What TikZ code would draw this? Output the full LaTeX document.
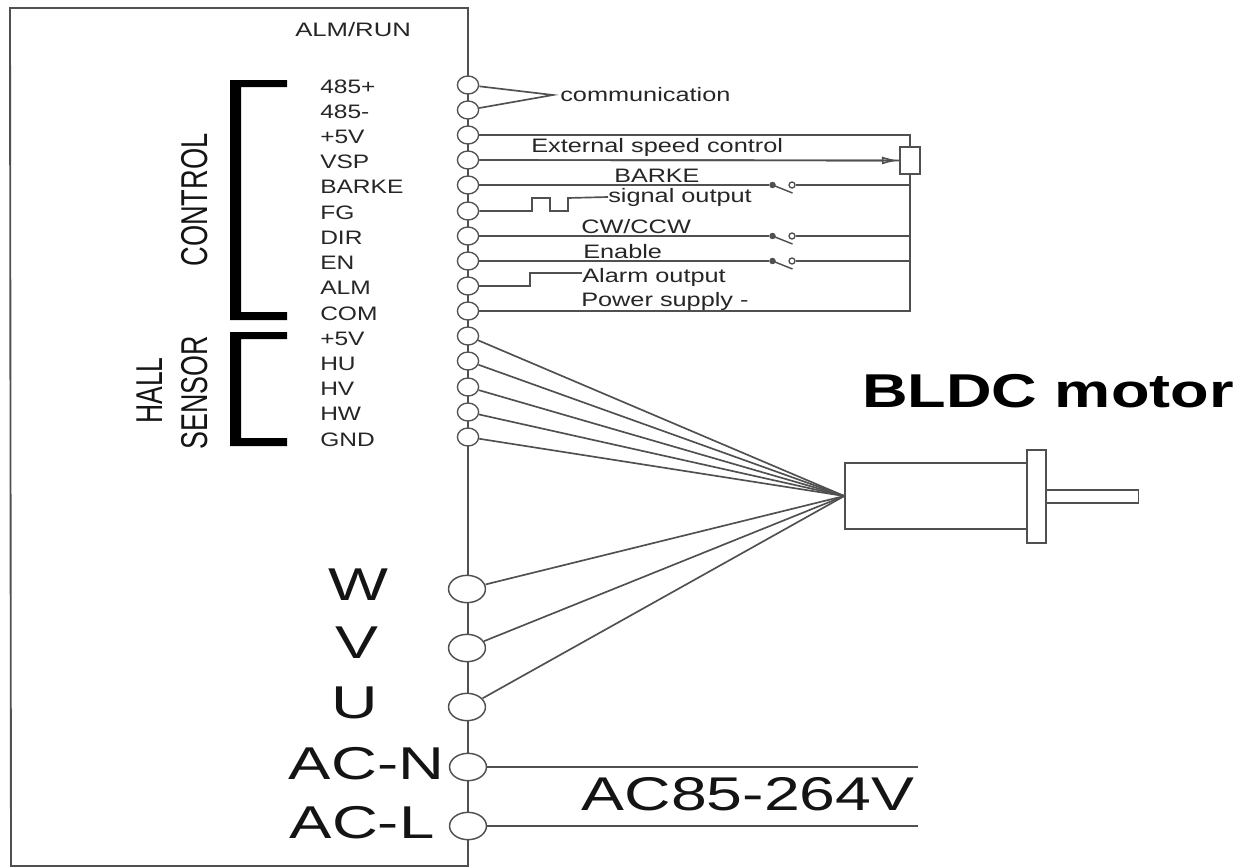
\documentclass[tikz,border=0pt]{standalone}
\usepackage{fontspec}
\usepackage{graphicx}
\setmainfont{Liberation Sans}
\usetikzlibrary{arrows.meta}
\definecolor{ln}{HTML}{505050}
\newcommand{\fs}[2]{\fontsize{#1}{#1}\selectfont\scalebox{#2}[1]}
\tikzset{
  x=0.75pt,y=-0.75pt,
  wire/.style={draw=ln,line width=1.25pt},
  frame/.style={draw=ln,line width=1.4pt},
  pin/.style={circle,draw=ln,fill=white,line width=1pt,minimum size=13.5pt,inner sep=0pt,xscale=1.18,transform shape},
  bigpin/.style={circle,draw=ln,fill=white,line width=1.1pt,minimum size=20.5pt,inner sep=0pt,xscale=1.35,transform shape},
  sig/.style={anchor=west,inner sep=0pt,text=black!85},
  big/.style={anchor=center,inner sep=0pt,text=black!92},
  dotA/.style={circle,draw=ln,fill=ln,line width=0.8pt,minimum size=4pt,inner sep=0pt},
  dotB/.style={circle,draw=ln,fill=white,line width=1pt,minimum size=4.5pt,inner sep=0pt},
  blade/.style={draw=ln,line width=1.1pt},
  part/.style={draw=ln,line width=1.25pt,fill=white}
}
\begin{document}
\begin{tikzpicture}
\useasboundingbox (0,0) rectangle (1244,867);
\fill[white] (0,0) rectangle (1244,867);
% frame
\coordinate (tl) at (10,8); \coordinate (tr) at (468,8);
\coordinate (bl) at (11,866); \coordinate (br) at (468,866);
\draw[frame] (bl) -- (tl) -- (tr) -- (br) -- cycle;
% brackets
\fill[black] (287,80) -- (230,80) -- (230,320) -- (287,320) -- (287,312) -- (241,312) -- (241,87) -- (287,87) -- cycle;
\fill[black] (287,332) -- (230,332) -- (230,446) -- (287,446) -- (287,438) -- (241,438) -- (241,339) -- (287,339) -- cycle;
% pins
\foreach \n/\yy in {1/85,2/110,3/135,4/160,5/185,6/211,7/236,8/261,9/286,10/311,11/336,12/361,13/387,14/412,15/437}
  \node[pin] (p\n) at (468,\yy) {};
\node[bigpin] (w) at (467,589) {};
\node[bigpin] (v) at (467,648) {};
\node[bigpin] (u) at (467,707) {};
\node[bigpin] (n) at (468,767) {};
\node[bigpin] (l) at (468,826) {};
% left labels
\foreach \n/\t in {1/485+,2/485-,3/+5V,4/VSP,5/BARKE,6/FG,7/DIR,8/EN,9/ALM,10/COM,11/+5V,12/HU,13/HV,14/HW,15/GND}
  \node[sig] (t\n) at (320,{86.5+(\n-1)*25.2}) {\fs{14.6}{1.26}{\t}};
\node[sig] (alm) at (295,30) {\fs{14.6}{1.32}{ALM/RUN}};
% rotated
\node[big,rotate=90] (ctl) at (195,200) {\fs{28}{0.73}{CONTROL}};
\node[big,rotate=90] (hall) at (149.5,390.5) {\fs{28}{0.71}{HALL}};
\node[big,rotate=90] (sens) at (195,392.5) {\fs{28}{0.72}{SENSOR}};
% power labels
\node[big] (tw) at (358,584.5) {\fs{34.5}{1.38}{W}};
\node[big] (tv) at (356.5,642.5) {\fs{34.5}{1.4}{V}};
\node[big] (tu) at (354.5,703) {\fs{34.5}{1.4}{U}};
\node[big] (tn) at (366.5,764) {\fs{34.5}{1.38}{AC-N}};
\node[big] (tl2) at (362,823) {\fs{34.5}{1.38}{AC-L}};
% communication
\coordinate (cm) at (553,95);
\draw[wire] (p1) -- (cm) -- (p2);
\node[sig] (tcom) at (560,95) {\fs{14.6}{1.3}{communication}};
% bus
\node[part,minimum width=15pt,minimum height=20pt,inner sep=0pt] (pot) at (910,160.5) {};
\coordinate (c3) at (pot.north |- p3);
\coordinate (c10) at (pot.south |- p10);
\draw[wire] (p3) -- (c3) -- (pot.north);
\draw[wire] (pot.south) -- (c10) -- (p10);
\draw[wire,-{Latex[open,length=13pt,width=6pt,fill=white]}] (p4) -- (pot.west);
\draw[wire] (p4) -- (pot.west);
\node[sig] (tesc) at (531,147) {\fs{14.6}{1.3}{External speed control}};
% switches
\coordinate (swa) at (772.5,0);
\coordinate (swb) at (792,0);
\foreach \n/\a in {5/a,7/b,8/c}{
  \node[dotA] (d\a) at (swa |- p\n) {};
  \node[dotB] (e\a) at (swb |- p\n) {};
  \coordinate (bus\a) at (pot.south |- p\n);
  \draw[wire] (p\n) -- (d\a);
  \draw[wire] (e\a) -- (bus\a);
  \draw[blade] (d\a.center) -- ++(20,8);
}
\node[sig] (tbrk) at (614,176) {\fs{14.6}{1.29}{BARKE}};
\node[sig] (tcw) at (581,227) {\fs{14.6}{1.3}{CW/CCW}};
\node[sig] (ten) at (583,252) {\fs{14.6}{1.3}{Enable}};
\node[sig] (tsig) at (608,197) {\fs{14.6}{1.3}{signal output}};
\node[sig] (talm) at (582,277) {\fs{14.6}{1.3}{Alarm output}};
\node[sig] (tps) at (581,301) {\fs{14.6}{1.3}{Power supply -}};
% pulse wires
\draw[wire] (p6) -- (532,211) -- (532,198) -- (550,198) -- (550,211) -- (568,211) -- (568,198) -- (tsig.west);
\draw[wire] (p9) -- (530,286) -- (530,273) -- (talm.west |- 0,273);
% motor
\node[part,minimum width=137pt,minimum height=49.5pt,inner sep=0pt] (body) at (936.5,496) {};
\node[part,minimum width=14pt,minimum height=70pt,inner sep=0pt] (flange) at (1036.5,496.5) {};
\node[part,minimum width=69.5pt,minimum height=10pt,inner sep=0pt] (shaft) at (1092,496.5) {};
\foreach \a in {p11,p12,p13,p14,p15,w,v,u}
  \draw[wire] (\a) -- (body.west);
\node[big,text=black] (bldc) at (1048,391) {\fontsize{35.6}{35.6}\selectfont\bfseries\scalebox{1.33}[1]{BLDC motor}};
% AC
\coordinate (ace) at (918,767);
\coordinate (acl) at (918,826);
\draw[wire] (n) -- (ace);
\draw[wire] (l) -- (acl);
\node[big] (tac) at (748,794) {\fs{35.5}{1.36}{AC85-264V}};
\end{tikzpicture}
\end{document}
